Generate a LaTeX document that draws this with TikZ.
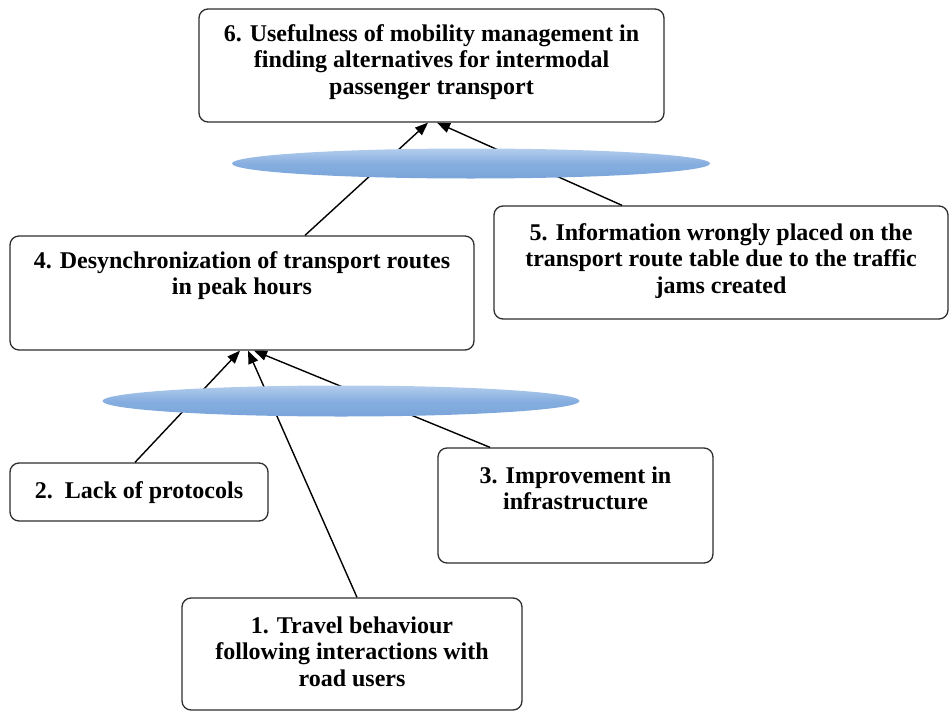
\documentclass[tikz,border=0pt]{standalone}
\usepackage{fontspec}
\newfontfamily\boxfont{Liberation Serif}[BoldFont={Liberation Serif Bold}]
\usetikzlibrary{arrows.meta,shapes.geometric}
\definecolor{frame}{HTML}{2E2E2E}
\definecolor{ovaltop}{HTML}{B3CDEC}
\definecolor{ovalmid}{HTML}{86AEE0}
\definecolor{ovalbot}{HTML}{7AA5DA}
\tikzset{
  box/.style={draw=frame, line width=1.3pt, rounded corners=9pt, fill=white,
              inner sep=0pt, anchor=center},
  txt/.style={anchor=north, align=center, inner sep=0pt,
              font=\boxfont\bfseries\fontsize{24}{26.5}\selectfont},
  oval/.style={ellipse, inner sep=0pt, draw=none,
               top color=ovaltop, bottom color=ovalbot, middle color=ovalmid},
  link/.style={line width=1.4pt, draw=black,
               -{Triangle[length=13pt,width=10pt]}}
}
\begin{document}
\begin{tikzpicture}[x=1pt,y=-1pt]
  \useasboundingbox (0,0) rectangle (950,712);

  % boxes
  \node[box, minimum width=465pt, minimum height=113pt] (b6) at (431.5,65.5) {};
  \node[box, minimum width=464pt, minimum height=114pt] (b4) at (242,293) {};
  \node[box, minimum width=454pt, minimum height=113pt] (b5) at (721,262.5) {};
  \node[box, minimum width=258pt, minimum height=58pt]  (b2) at (139,492) {};
  \node[box, minimum width=275pt, minimum height=115pt] (b3) at (575.5,505.5) {};
  \node[box, minimum width=340pt, minimum height=112pt] (b1) at (352,654) {};

  % box texts
  \node[txt] (t6) at ([yshift=-16pt]b6.north)
    {6. Usefulness of mobility management in\\finding alternatives for intermodal\\passenger transport};
  \node[txt] (t4) at ([yshift=-16pt]b4.north)
    {4. Desynchronization of transport routes\\in peak hours};
  \node[txt] (t5) at ([yshift=-18pt]b5.north)
    {5. Information wrongly placed on the\\transport route table due to the traffic\\jams created};
  \node[txt] (t2) at ([yshift=-19pt]b2.north) {2.\ \ Lack of protocols};
  \node[txt] (t3) at ([yshift=-19pt]b3.north) {3. Improvement in\\infrastructure};
  \node[txt] (t1) at ([yshift=-19pt]b1.north)
    {1. Travel behaviour\\following interactions with\\road users};

  % connectors
  \draw[link] ([xshift=63pt]b4.north)    -- ([xshift=-3.5pt]b6.south);
  \draw[link] ([xshift=-99pt]b5.north)   -- ([xshift=5.5pt]b6.south);
  \draw[link] ([xshift=-4pt]b2.north)    -- ([xshift=-2pt]b4.south);
  \draw[link] ([xshift=5pt]b1.north)     -- ([xshift=6pt]b4.south);
  \draw[link] ([xshift=-85.5pt]b3.north) -- ([xshift=12pt]b4.south);

  % junction ovals laid over the connectors
  \node[oval, minimum width=478pt, minimum height=30pt] (j1) at (471,163.5) {};
  \node[oval, minimum width=477pt, minimum height=31pt] (j2) at (341,401) {};
\end{tikzpicture}
\end{document}
